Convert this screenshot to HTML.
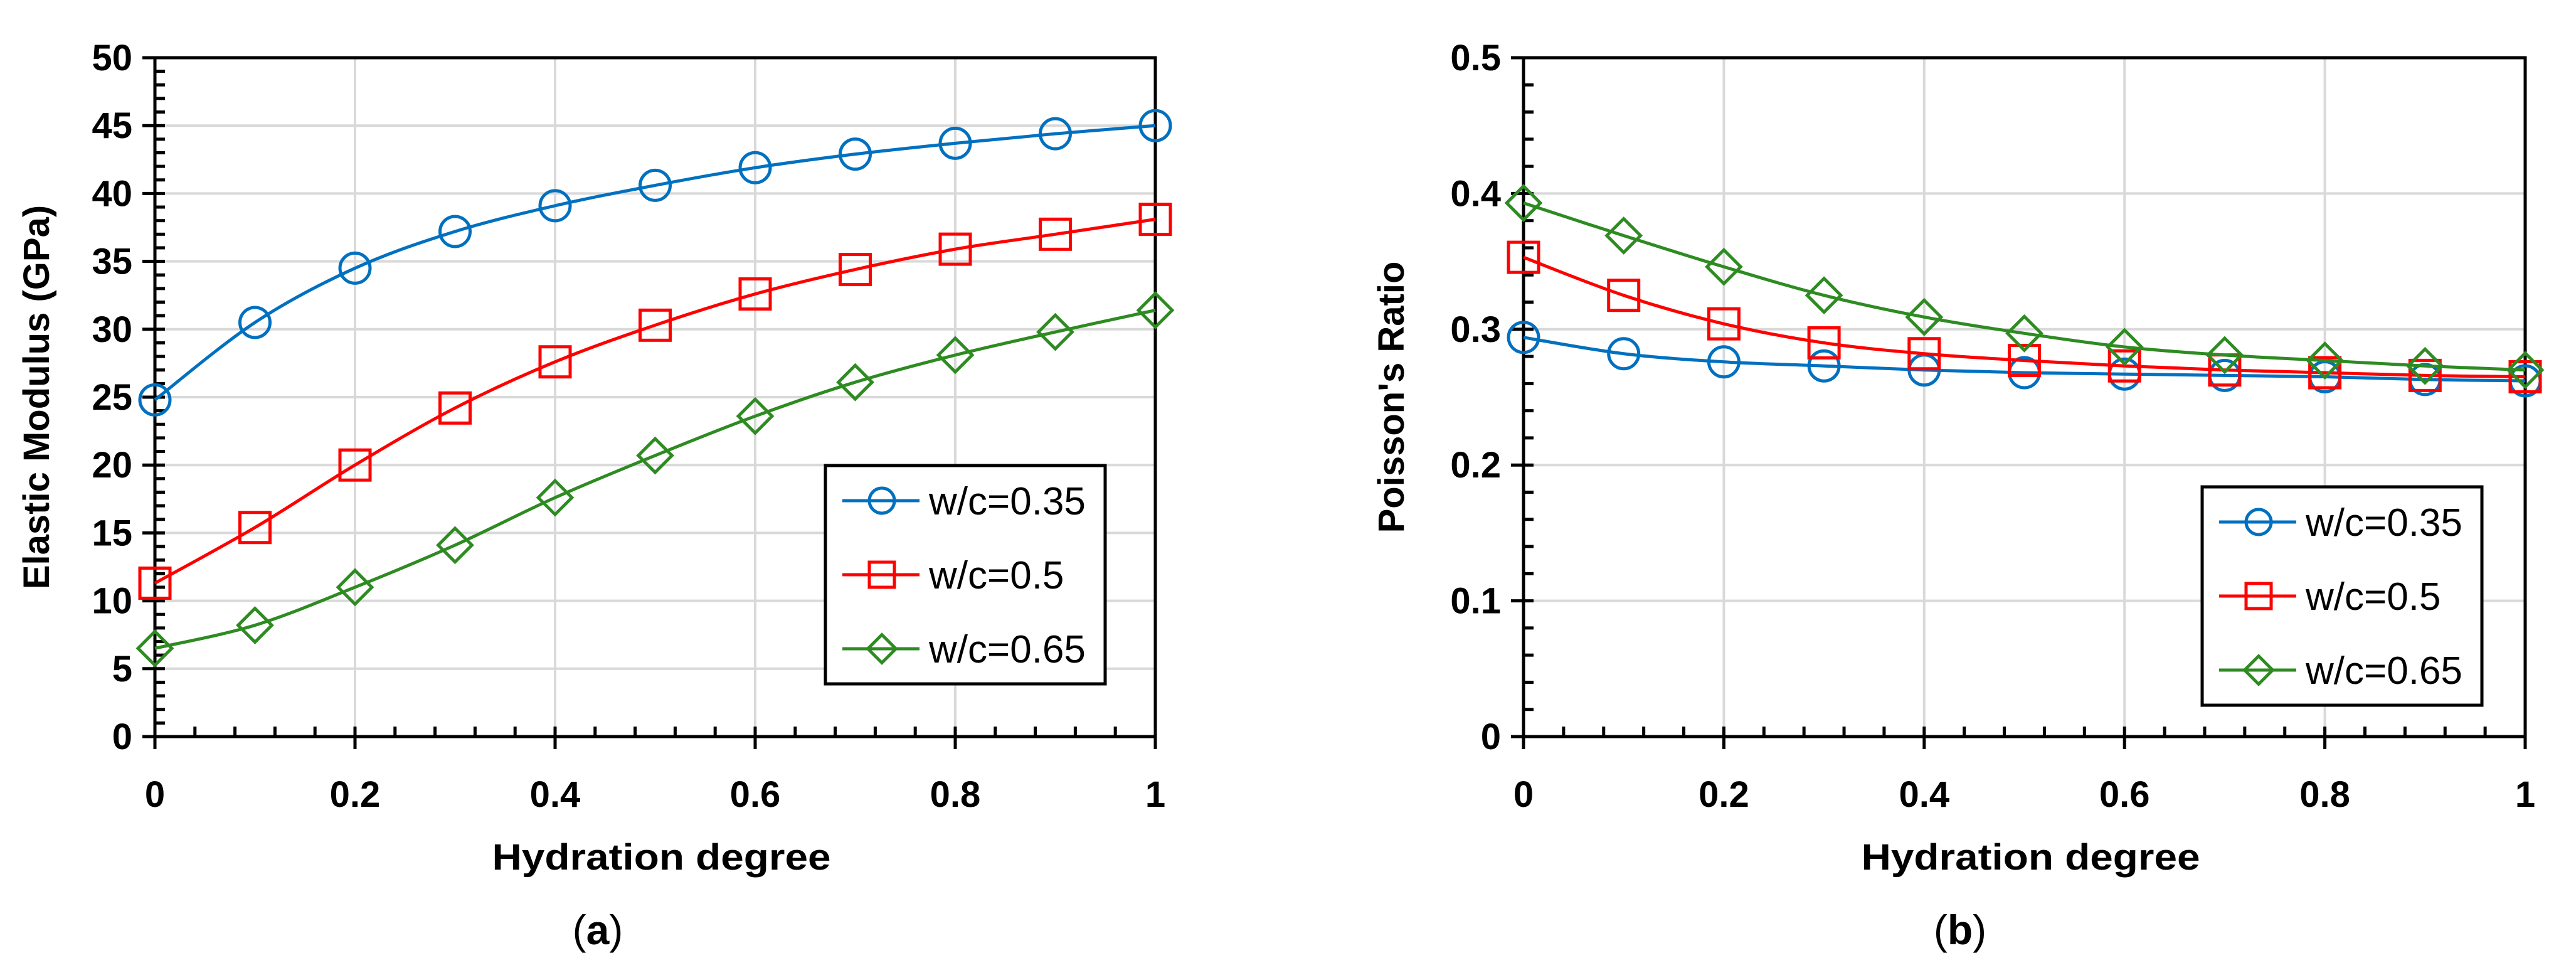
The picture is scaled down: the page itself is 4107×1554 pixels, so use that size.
<!DOCTYPE html>
<html><head><meta charset="utf-8"><style>
html,body{margin:0;padding:0;background:#fff;}
svg{display:block;}
text{font-family:"Liberation Sans",sans-serif;}
</style></head><body>
<svg id="fig" width="4107" height="1554" viewBox="0 0 4107 1554" xmlns="http://www.w3.org/2000/svg"></svg>
<script>
const xCategories = [0,0.1,0.2,0.3,0.4,0.5,0.6,0.7,0.8,0.9,1];
const xTickLabels = ["0","0.2","0.4","0.6","0.8","1"];
const seriesNames = ["w/c=0.35","w/c=0.5","w/c=0.65"];
const modulusW035 = [24.8,30.5,34.5,37.2,39.1,40.6,41.9,42.9,43.7,44.4,45.0];
const modulusW050 = [11.3,15.4,20.0,24.2,27.6,30.3,32.6,34.4,35.9,37.0,38.1];
const modulusW065 = [6.5,8.2,11.0,14.1,17.6,20.7,23.6,26.1,28.1,29.8,31.4];
const modulusTickLabels = ["0","5","10","15","20","25","30","35","40","45","50"];
const poissonW035 = [0.294,0.282,0.276,0.273,0.270,0.268,0.267,0.266,0.265,0.263,0.262];
const poissonW050 = [0.353,0.325,0.304,0.290,0.282,0.277,0.273,0.270,0.268,0.266,0.265];
const poissonW065 = [0.393,0.369,0.346,0.325,0.309,0.297,0.287,0.281,0.277,0.273,0.270];
const poissonTickLabels = ["0","0.1","0.2","0.3","0.4","0.5"];

const NS="http://www.w3.org/2000/svg";
const svg=document.getElementById('fig');
const colors=["#0070C0","#FF0000","#2E8B22"];
const shapes=["circle","square","diamond"];
function el(tag,attrs,parent){const e=document.createElementNS(NS,tag);for(const k in attrs)e.setAttribute(k,attrs[k]);(parent||svg).appendChild(e);return e;}

function marker(g,shape,cx,cy,color,s){
  let m;
  if(shape==="circle") m=el('circle',{cx:cx,cy:cy,r:s,fill:'none',stroke:color,'stroke-width':5},g);
  else if(shape==="square") m=el('rect',{x:cx-s,y:cy-s,width:2*s,height:2*s,fill:'none',stroke:color,'stroke-width':5},g);
  else {const d=s*1.12;m=el('path',{d:`M${cx} ${cy-d}L${cx+d} ${cy}L${cx} ${cy+d}L${cx-d} ${cy}Z`,fill:'none',stroke:color,'stroke-width':5},g);}
  return m;
}
function smoothPath(pts){
  let d=`M${pts[0][0]} ${pts[0][1]}`;
  for(let i=0;i<pts.length-1;i++){
    const p0=pts[Math.max(0,i-1)],p1=pts[i],p2=pts[i+1],p3=pts[Math.min(pts.length-1,i+2)];
    const t=0.5/3;
    const c1=[p1[0]+(p2[0]-p0[0])*t,p1[1]+(p2[1]-p0[1])*t];
    const c2=[p2[0]-(p3[0]-p1[0])*t,p2[1]-(p3[1]-p1[1])*t];
    d+=`C${c1[0]} ${c1[1]} ${c2[0]} ${c2[1]} ${p2[0]} ${p2[1]}`;
  }
  return d;
}

function chart(cfg){
  const g=el('g',{});
  
  
  const {L,R,T,B,ymax}=cfg;
  const sx=v=>L+(R-L)*v;
  const sy=v=>B-(B-T)*v/ymax;
  const nY=cfg.yLabels.length;
  for(let i=1;i<nY;i++){
    const v=ymax*i/(nY-1);
    const gl=el('line',{x1:L,x2:R,y1:sy(v),y2:sy(v),stroke:'#d9d9d9','stroke-width':4},g);
    
    
  }
  for(let i=1;i<xTickLabels.length;i++){
    const v=i/(xTickLabels.length-1);
    const gl=el('line',{x1:sx(v),x2:sx(v),y1:T,y2:B,stroke:'#d9d9d9','stroke-width':4},g);
    
    
  }
  const fr=el('path',{d:`M${L} ${B}L${L} ${T}L${R} ${T}L${R} ${B}Z`,fill:'none',stroke:'#000','stroke-width':5},g);
  
  
  const minorsY=(nY-1)*5;
  for(let i=0;i<=minorsY;i++){
    const y=B-(B-T)*i/minorsY;
    if(i%5===0) el('line',{x1:L-20,x2:L+16,y1:y,y2:y,stroke:'#000','stroke-width':5},g);
    else el('line',{x1:L,x2:L+16,y1:y,y2:y,stroke:'#000','stroke-width':5},g);
  }
  for(let i=0;i<nY;i++){
    const t=el('text',{x:L-36,y:sy(ymax*i/(nY-1))+20,'text-anchor':'end','font-size':58,'font-weight':'bold',fill:'#000'},g);
    t.textContent=cfg.yLabels[i];
    
    
  }
  for(let i=0;i<=25;i++){
    const x=L+(R-L)*i/25;
    if(i%5===0) el('line',{x1:x,x2:x,y1:B-16,y2:B+20,stroke:'#000','stroke-width':5},g);
    else el('line',{x1:x,x2:x,y1:B-16,y2:B,stroke:'#000','stroke-width':5},g);
  }
  for(let i=0;i<xTickLabels.length;i++){
    const t=el('text',{x:sx(i/(xTickLabels.length-1)),y:1286,'text-anchor':'middle','font-size':58,'font-weight':'bold',fill:'#000'},g);
    t.textContent=xTickLabels[i];
    
    
  }
  const xt=el('text',{x:(L+R)/2+10,y:1386,'text-anchor':'middle','font-size':58,'font-weight':'bold',fill:'#000',textLength:540,lengthAdjust:'spacingAndGlyphs'},g);
  xt.textContent='Hydration degree';
  
  
  const yt=el('text',{x:0,y:0,'text-anchor':'middle','font-size':58,'font-weight':'bold',fill:'#000',transform:`translate(${cfg.ytX},${(T+B)/2}) rotate(-90)`},g);
  yt.textContent=cfg.yTitle;
  
  
  cfg.series.forEach((vals,si)=>{
    const sg=el('g',{},g);
    
    
    const pts=xCategories.map((x,i)=>[sx(x),sy(vals[i])]);
    const ln=el('path',{d:smoothPath(pts),fill:'none',stroke:colors[si],'stroke-width':5},sg);
    
    
    pts.forEach(p=>{
      const m=marker(sg,shapes[si],p[0],p[1],colors[si],24);
      
      
    });
  });
  const lg=el('g',{},g);
  
  
  const lx=cfg.legX,ly=cfg.legY;
  el('rect',{x:lx,y:ly,width:446,height:348,fill:'#fff',stroke:'#000','stroke-width':5},lg);
  seriesNames.forEach((n,si)=>{
    const ry=ly+56+si*118;
    const e=el('g',{},lg);
    
    
    el('line',{x1:lx+27,x2:lx+150,y1:ry,y2:ry,stroke:colors[si],'stroke-width':5},e);
    marker(e,shapes[si],lx+90,ry,colors[si],20);
    const t=el('text',{x:lx+165,y:ry+22,'font-size':62,fill:'#000'},e);
    t.textContent=n;
  });
  const cap=el('text',{x:cfg.capX,y:1505,'text-anchor':'middle','font-size':66,fill:'#000','font-family':'Liberation Serif, serif'},g);
  cap.innerHTML='(<tspan font-weight="bold">'+cfg.cap+'</tspan>)';
  
  
}

chart({name:'chart-elastic-modulus',L:247,R:1842,T:92,B:1174,ymax:50,yLabels:modulusTickLabels,
  series:[modulusW035,modulusW050,modulusW065],yTitle:'Elastic Modulus (GPa)',ytX:78,legX:1316,legY:742,capX:953,cap:'a'});
chart({name:'chart-poisson-ratio',L:2429,R:4026,T:92,B:1174,ymax:0.5,yLabels:poissonTickLabels,
  series:[poissonW035,poissonW050,poissonW065],yTitle:"Poisson's Ratio",ytX:2238,legX:3511,legY:776,capX:3125,cap:'b'});
</script>
</body></html>
